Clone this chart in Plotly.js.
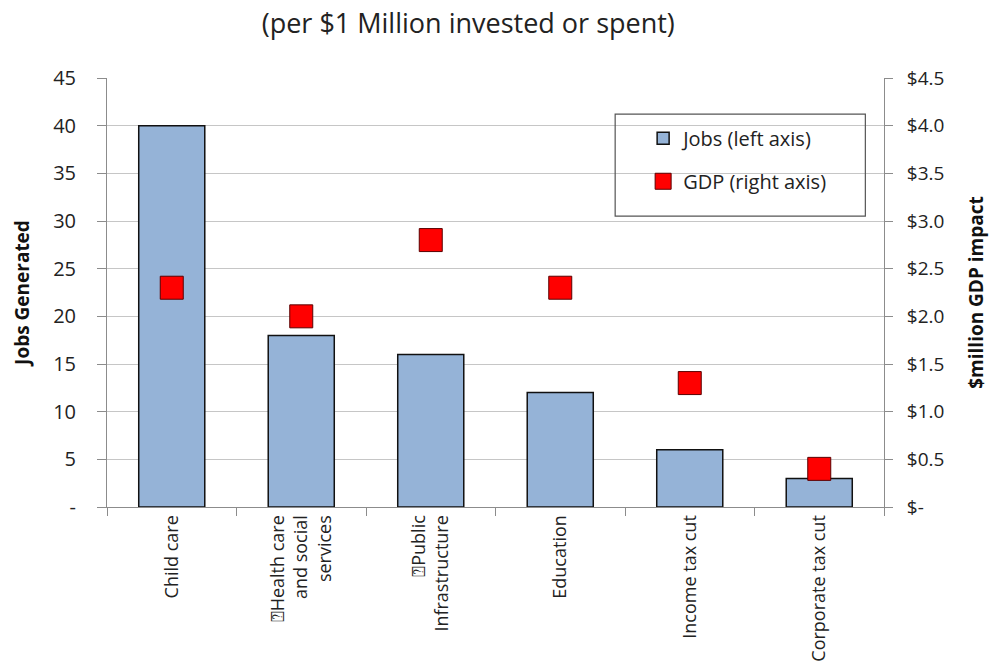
<!DOCTYPE html>
<html>
<head>
<meta charset="utf-8">
<script src="https://cdn.plot.ly/plotly-3.0.1.min.js"></script>
<style>html,body{margin:0;padding:0;background:#fff;}#chart{width:990px;height:671px;}</style>
</head>
<body>
<div id="chart"></div>
<script>
var categories = ["Child care", "\u2370Health care<br>and social<br>services", "\u2370Public<br>Infrastructure", "Education", "Income tax cut", "Corporate tax cut"];
var jobs = [40, 18, 16, 12, 6, 3];
var gdp = [2.3, 2.0, 2.8, 2.3, 1.3, 0.4];
var leftTickVals = [0, 5, 10, 15, 20, 25, 30, 35, 40, 45];
var leftTickText = ["-", "5", "10", "15", "20", "25", "30", "35", "40", "45"];
var rightTickVals = [0, 0.5, 1, 1.5, 2, 2.5, 3, 3.5, 4, 4.5];
var rightTickText = ["$-", "$0.5", "$1.0", "$1.5", "$2.0", "$2.5", "$3.0", "$3.5", "$4.0", "$4.5"];

var font = "Open Sans, Noto Sans, DejaVu Sans, sans-serif";

var traces = [
  {
    type: "bar", x: categories, y: jobs, name: "Jobs (left axis)",
    marker: {color: "#95B3D7", line: {color: "#111", width: 1.5}},
    width: 0.51, legendgroup: "a"
  },
  {
    type: "scatter", mode: "markers", x: categories, y: gdp, yaxis: "y2", name: "GDP (right axis)",
    marker: {symbol: "square", size: 23, color: "#FF0000", line: {color: "#5a0000", width: 1}},
    legendgroup: "b"
  }
];

var layout = {
  width: 990, height: 671,
  margin: {l: 107, r: 106, t: 78, b: 164},
  paper_bgcolor: "#fff", plot_bgcolor: "#fff",
  font: {family: font, color: "#222", size: 19},
  title: {text: "(per $1 Million invested or spent)", x: 0.473, xanchor: "center", y: 0.965, yanchor: "middle",
          font: {family: font, size: 27, color: "#222"}},
  showlegend: true,
  legend: {x: 0.69, xanchor: "left", y: 0.905, yanchor: "top", bgcolor: "rgba(0,0,0,0)", borderwidth: 0,
           font: {family: font, size: 20, color: "#222"}, traceorder: "grouped", tracegroupgap: 14},
  xaxis: {
    type: "category", showgrid: false, showline: true, linecolor: "#8c8c8c", linewidth: 1,
    ticks: "outside", tickson: "boundaries", ticklen: 8, tickcolor: "#8c8c8c",
    tickangle: -90, tickfont: {family: font, size: 18, color: "#222"}, fixedrange: true
  },
  yaxis: {
    range: [0, 45], tickvals: leftTickVals, ticktext: leftTickText,
    showgrid: true, gridcolor: "#c6c6c6", gridwidth: 1, zeroline: false,
    showline: true, linecolor: "#8c8c8c", linewidth: 1, ticks: "outside", ticklen: 9, tickcolor: "#8c8c8c",
    tickfont: {family: font, size: 20, color: "#222"}, ticklabelstandoff: 17,
    title: {text: "<b>Jobs Generated</b>", font: {family: font, size: 19, color: "#111"}, standoff: 18}
  },
  yaxis2: {
    range: [0, 4.5], tickvals: rightTickVals, ticktext: rightTickText, overlaying: "y", side: "right",
    showgrid: false, zeroline: false, showline: true, linecolor: "#8c8c8c", linewidth: 1,
    ticks: "outside", ticklen: 8, tickcolor: "#8c8c8c",
    tickfont: {family: font, size: 19, color: "#222"}, ticklabelstandoff: 10,
    title: {text: "<b>$million GDP impact</b>", font: {family: font, size: 19, color: "#111"}, standoff: 26}
  },
  shapes: [
    {type: "rect", xref: "paper", yref: "paper", x0: 0.654, x1: 0.976, y0: 0.678, y1: 0.916,
     line: {color: "#555", width: 1.2}, fillcolor: "rgba(255,255,255,0)", layer: "above"}
  ]
};

Plotly.newPlot("chart", traces, layout, {displayModeBar: false, staticPlot: true});
</script>
</body>
</html>
